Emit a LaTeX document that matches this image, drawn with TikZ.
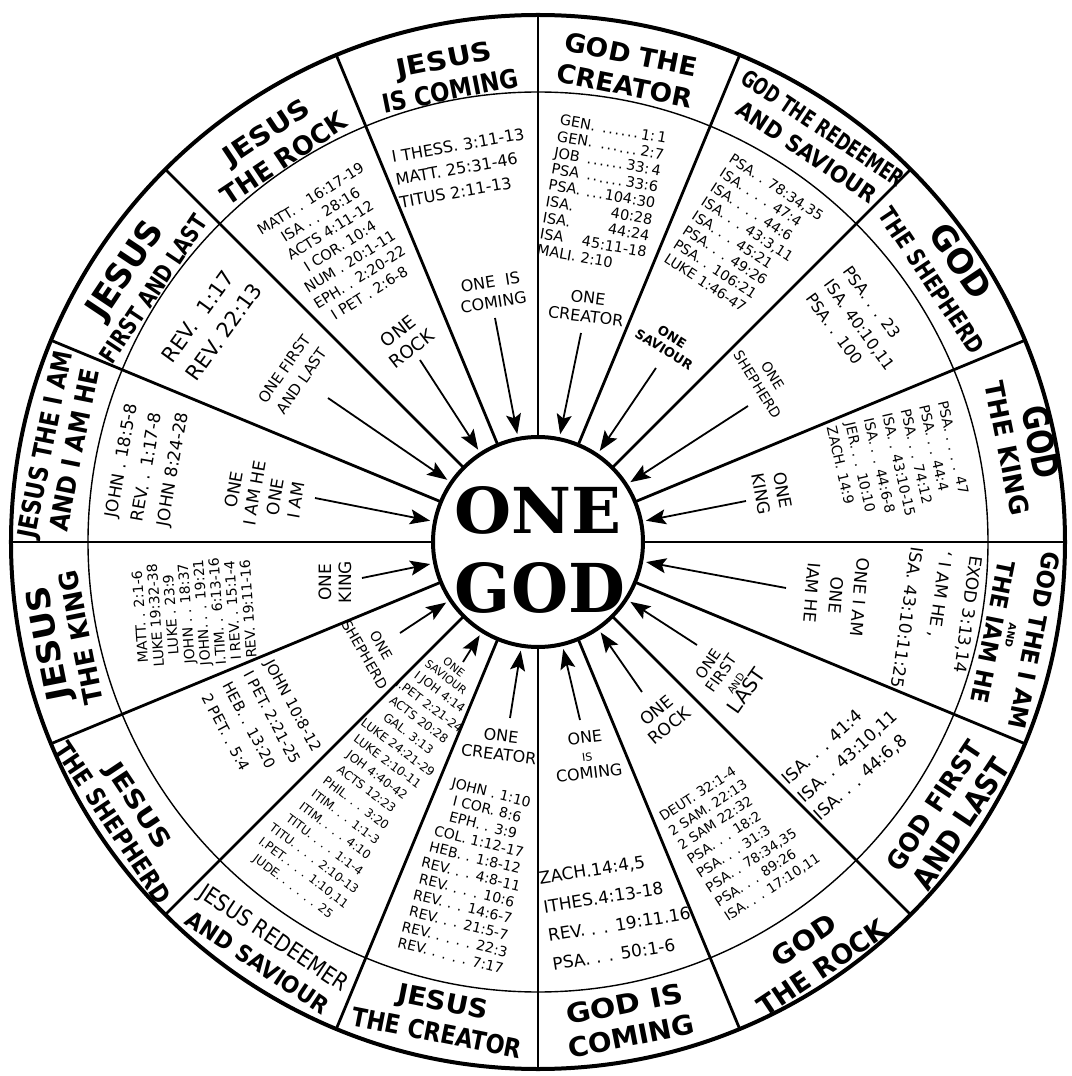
\documentclass[tikz,border=0pt]{standalone}
\usepackage{fontspec}
\usepackage{graphicx}
\setmainfont{DejaVu Sans}
\newfontfamily\slabfont{DejaVu Serif}
\usetikzlibrary{arrows.meta}
\newcommand\fs[2]{\fontsize{#1}{#2}\selectfont}
\newcommand\tl[2]{\resizebox{#1pt}{\height}{#2}}
\newlength\lw
\newcommand\dl[2]{\hbox to\lw{#1\dotfill#2}}
\newcommand\hl[2]{\hbox to\lw{#1\hfill#2}}
\tikzset{
  ttl/.style={align=center, inner sep=0pt},
  refs/.style={align=left, inner sep=0pt},
  crefs/.style={align=center, inner sep=0pt},
  lbl/.style={align=center, inner sep=0pt},
  arr/.style={line width=1.8pt, -{Stealth[length=20pt,width=15pt,inset=4pt]}, shorten >=3pt},
  divline/.style={line width=2.8pt},
}
\begin{document}
\begin{tikzpicture}[x=1pt,y=1pt]
\useasboundingbox (-538,-534) rectangle (533,542);
\fill[white] (-538,-534) rectangle (533,542);
% rings and dividers
\draw[line width=4pt] (0,0) circle (527);
\draw[line width=1.4pt] (0,0) circle (450);
\foreach \a in {0,22.5,...,337.5} \draw[divline] (\a:104) -- (\a:527);
% centre
\node[circle, draw, fill=white, line width=4pt, minimum size=210pt, inner sep=0pt] (onegod) at (0,0) {};
\node[inner sep=0pt] (tone) at (0,32) {\slabfont\bfseries\resizebox{167pt}{47pt}{ONE}};
\node[inner sep=0pt] (tgod) at (2,-46) {\slabfont\bfseries\resizebox{170pt}{50pt}{GOD}};

% ---------- titles in the outer band ----------
\node[ttl, font=\bfseries\fs{26}{31}, rotate=-78.75] (t1) at (488,97) {{\fs{36}{40}\tl{74}{GOD}}\\\tl{136}{THE KING}};
\node[ttl, font=\bfseries\fs{24}{31}, rotate=-56.25] (t2) at (410,272) {{\fs{34}{38}\tl{83}{GOD}}\\\tl{170}{THE SHEPHERD}};
\node[ttl, font=\bfseries\fs{23}{29}, rotate=-33.75] (t3) at (277,402) {\tl{190}{GOD THE REDEEMER}\\\tl{163}{AND SAVIOUR}};
\node[ttl, font=\bfseries\fs{26}{32}, rotate=-11.25] (t4) at (90,472) {\tl{134}{GOD THE}\\\tl{137}{CREATOR}};
\node[ttl, font=\bfseries\fs{26}{32}, rotate=11.25] (t5) at (-91,467) {\tl{97}{JESUS}\\\tl{138}{IS COMING}};
\node[ttl, font=\bfseries\fs{26}{32}, rotate=33.75] (t6) at (-263,397) {\tl{98}{JESUS}\\\tl{145}{THE ROCK}};
\node[ttl, font=\bfseries\fs{24}{32}, rotate=56.25] (t7) at (-401,264) {{\fs{34}{38}\tl{110}{JESUS}}\\\tl{172}{FIRST AND LAST}};
\node[ttl, font=\bfseries\fs{26}{30}, rotate=78.75] (t8) at (-479,95) {\tl{190}{JESUS THE I AM}\\\tl{165}{AND I AM HE}};
\node[ttl, font=\bfseries\fs{26}{32}, rotate=101.25] (t9) at (-475,-99) {{\fs{32}{36}\tl{116}{JESUS}}\\\tl{136}{THE KING}};
\node[ttl, font=\bfseries\fs{25}{31}, rotate=-56.25] (t10) at (-412,-272) {\tl{98}{JESUS}\\\tl{189}{THE SHEPHERD}};
\node[ttl, font=\bfseries\fs{23}{30}, rotate=-33.75] (t11) at (-272,-408) {{\mdseries\tl{173}{JESUS REDEEMER}}\\\tl{166}{AND SAVIOUR}};
\node[ttl, font=\bfseries\fs{26}{32}, rotate=-11.25] (t12) at (-98,-475) {\tl{92}{JESUS}\\\tl{173}{THE CREATOR}};
\node[ttl, font=\bfseries\fs{27}{33}, rotate=11.25] (t13) at (90,-478) {\tl{118}{GOD IS}\\\tl{128}{COMING}};
\node[ttl, font=\bfseries\fs{27}{33}, rotate=33.75] (t14) at (275,-412) {\tl{72}{GOD}\\\tl{150}{THE ROCK}};
\node[ttl, font=\bfseries\fs{26}{34}, rotate=56.25] (t15) at (410,-273) {\tl{150}{GOD FIRST}\\{\fs{30}{34}\tl{150}{AND LAST}}};
\node[ttl, font=\bfseries\fs{24}{28}, rotate=-101.25] (t16) at (476,-94) {\tl{180}{GOD THE I AM}\\[-9pt]{\fs{10}{10}AND}\\[-5pt]\tl{144}{THE IAM HE}};

% ---------- scripture references ----------
\node[refs, font=\fs{14}{19}, rotate=-77] (r1) at (361,77) {PSA. . . . . 47\\PSA. . . 44:4\\PSA. . . 74:12\\ISA. . 43:10-15\\ISA. . . 44:6-8\\JER. . . 10:10\\ZACH. 14:9};
\node[refs, font=\fs{16}{23}, rotate=-54] (r2) at (322,217) {PSA. . . 23\\ISA. 40:10,11\\PSA. . 100};
\node[refs, font=\fs{14}{17}, rotate=-33] (r3) at (206,305) {PSA. . 78:34,35\\ISA. . . . 47:4\\ISA. . . . 44:6\\ISA. . . 43:3,11\\ISA. . . 45:21\\PSA. . . 49:26\\PSA. . 106:21\\LUKE 1:46-47};
\node[refs, font={\fs{14.5}{16.5}\setlength\lw{108pt}}, rotate=-10] (r4) at (64,348) {\dl{GEN. }{1:\,1}\\\dl{GEN. }{2:7}\\\dl{JOB }{33:\,4}\\\dl{PSA }{33:6}\\\dl{PSA. }{104:30}\\\hl{ISA. }{40:28}\\\hl{ISA. }{44:24}\\\hl{ISA }{45:11-18}\\MALI. 2:10};
\node[refs, font=\fs{16}{23}, rotate=10] (r5) at (-76,374) {I THESS. 3:11-13\\MATT. 25:31-46\\TITUS 2:11-13};
\node[crefs, font=\fs{14.5}{18.5}, rotate=32] (r6) at (-198,296) {MATT. . 16:17-19\\ISA . . 28:16\\ACTS 4:11-12\\I COR. 10:4\\NUM . 20:1-11\\EPH. . 2:20-22\\I PET . 2:6-8};
\node[refs, font=\fs{21}{30}, rotate=54] (r7) at (-326,219) {REV.~ 1:17\\REV. 22:13};
\node[refs, font=\fs{17}{26}, rotate=80] (r8) at (-390,77) {JOHN . 18:5-8\\REV. . 1:17-8\\JOHN 8:24-28};
\node[crefs, font=\fs{14}{15.5}, rotate=94] (r9) at (-344,-71) {MATT. . 2:1-6\\LUKE 19:32-38\\LUKE . 23:9\\JOHN . . 18:37\\JOHN. . . 19:21\\I.TIM. . 6:13-16\\I REV. . 15:1-4\\REV. 19:11-16};
\node[refs, font=\fs{15}{24}, rotate=-62] (r10) at (-276,-181) {JOHN 10:8-12\\I PET. 2:21-25\\HEB. . 13:20\\2 PET. . 5:4};
\node[crefs, font=\fs{12}{17.4}, rotate=-37] (r11) at (-172,-248) {I JOH 4:14\\I.PET 2:21-24\\ACTS 20:28\\GAL. 3:13\\LUKE 24:21-29\\LUKE 2:10-11\\JOH 4:40-42\\ACTS 12:23\\PHIL. . . 3:20\\ITIM. . . 1:1-3\\ITIM. . . . 4:10\\TITU. . . . 1:1-4\\TITU. . . . 2:10-13\\I.PET. . . . 1:10,11\\JUDE. . . . . . 25};
\node[crefs, font=\fs{14}{16.8}, rotate=-14] (r12) at (-67,-332) {JOHN . 1:10\\I COR. 8:6\\EPH. . 3:9\\COL. 1:12-17\\HEB. . 1:8-12\\REV. . . 4:8-11\\REV. . . . 10:6\\REV. . . 14:6-7\\REV. . . 21:5-7\\REV. . . . . 22:3\\REV. . . . . 7:17};
\node[refs, font=\fs{17}{29}, rotate=9] (r13) at (79,-368) {ZACH.14:4,5\\ITHES.4:13-18\\REV. . . 19:11.16\\PSA. . . 50:1-6};
\node[refs, font=\fs{13.5}{17}, rotate=33] (r14) at (202,-296) {DEUT. 32:1-4\\2 SAM. 22:13\\2 SAM 22:32\\PSA. . . 18:2\\PSA. . . 31:3\\PSA. . 78:34,35\\PSA. . . 89:26\\ISA. . . 17:10,11};
\node[refs, font=\fs{17}{24}, rotate=42] (r15) at (310,-215) {ISA. . . 41:4\\ISA. . 43:10,11\\ISA. . . 44:6,8};
\node[refs, font=\fs{17}{30}, rotate=-98] (r16) at (399,-80) {EXOD 3:13,14\\` I AM HE ,\\ISA. 43:10:11:25};

% ---------- "ONE ..." labels ----------
\node[lbl, font=\fs{17}{22}, rotate=-80] (l1) at (234,50) {ONE\\KING};
\node[lbl, font=\fs{14}{18}, rotate=-58] (l2) at (227,162) {ONE\\SHEPHERD};
\node[lbl, font=\bfseries\fs{13}{15}, rotate=-32] (l3) at (130,199) {ONE\\SAVIOUR};
\node[lbl, font=\fs{16}{19}, rotate=-7] (l4) at (49,235) {ONE\\CREATOR};
\node[lbl, font=\fs{16}{21}, rotate=9] (l5) at (-46,250) {ONE~ IS\\COMING};
\node[lbl, font=\fs{18}{22}, rotate=38] (l6) at (-133,202) {ONE\\ROCK};
\node[lbl, font=\fs{15}{21}, rotate=55] (l7) at (-245,167) {ONE FIRST\\AND LAST};
\node[lbl, font=\fs{17}{21}, rotate=80] (l8) at (-273,47) {ONE\\I AM HE\\ONE\\I AM};
\node[lbl, font=\fs{17}{20}, rotate=90] (l9) at (-203,-40) {ONE\\KING};
\node[lbl, font=\fs{14}{19}, rotate=-60] (l10) at (-165,-108) {ONE\\SHEPHERD};
\node[lbl, font=\fs{11}{13}, rotate=-38] (l11) at (-88,-130) {ONE\\SAVIOUR};
\node[lbl, font=\fs{16}{19}, rotate=-7] (l12) at (-38,-203) {ONE\\CREATOR};
\node[lbl, font=\fs{16}{18}, rotate=7] (l13) at (49,-213) {ONE\\{\fs{11}{12}IS}\\COMING};
\node[lbl, font=\fs{17}{20}, rotate=40] (l14) at (125,-176) {ONE\\ROCK};
\node[lbl, font=\fs{15}{16}, rotate=55] (l15) at (190,-136) {ONE\\FIRST\\{\fs{10}{11}AND}\\{\fs{20}{22}LAST}};
\node[lbl, font=\fs{17}{24}, rotate=-95] (l16) at (298,-53) {ONE I AM\\ONE\\IAM HE};

% ---------- arrows ----------
\coordinate (a1) at (208,41);
\coordinate (a2) at (210,136);
\coordinate (a3) at (118,174);
\coordinate (a4) at (43,209);
\coordinate (a5) at (-43,224);
\coordinate (a6) at (-118,182);
\coordinate (a7) at (-210,144);
\coordinate (a8) at (-223,44);
\coordinate (a9) at (-176,-36);
\coordinate (a10) at (-138,-91);
\coordinate (a11) at (-75,-120);
\coordinate (a12) at (-28,-176);
\coordinate (a13) at (42,-178);
\coordinate (a14) at (104,-150);
\coordinate (a15) at (159,-103);
\coordinate (a16) at (248,-46);
\foreach \i in {1,...,16} \draw[arr] (a\i) -- (onegod);
\end{tikzpicture}
\end{document}
